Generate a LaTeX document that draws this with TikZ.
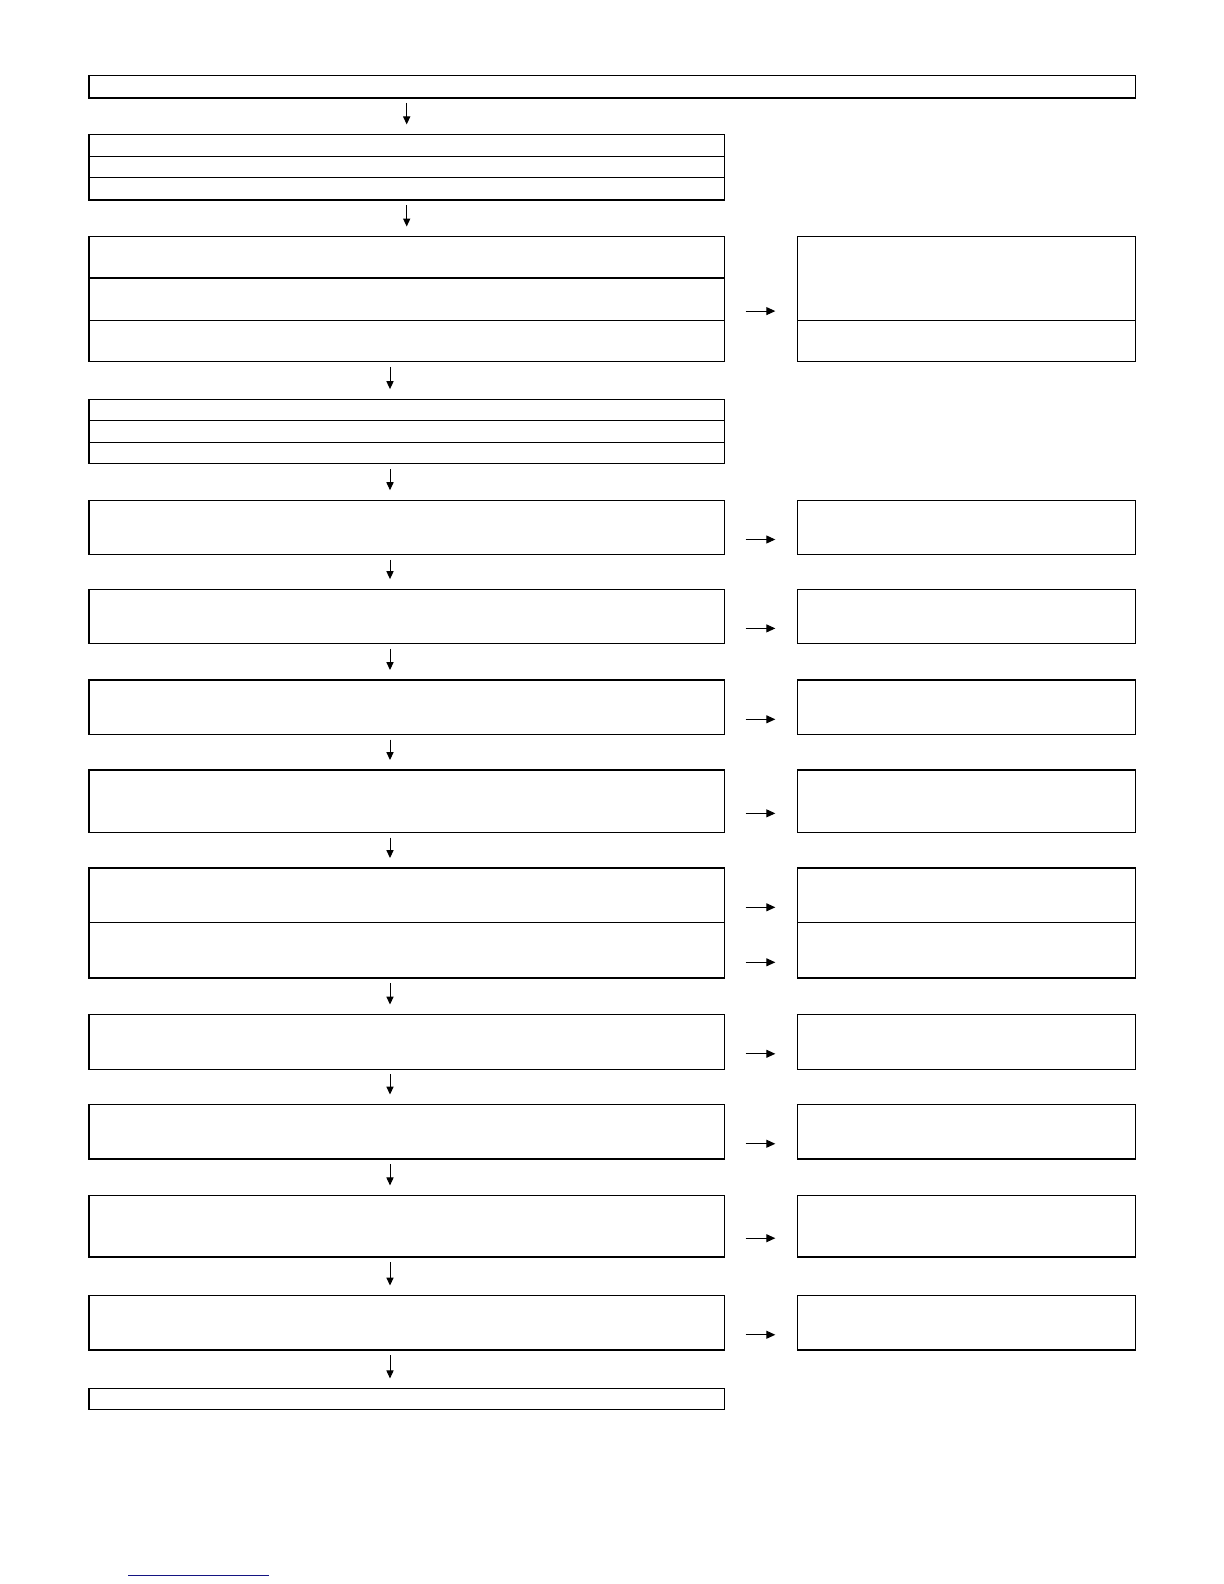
\documentclass[tikz,border=0pt]{standalone}
\usetikzlibrary{arrows.meta}
\definecolor{linkblue}{RGB}{20,20,130}
\tikzset{
  box/.style={draw, line width=0.6pt, inner sep=0pt, outer sep=0pt, anchor=north west},
  lbox/.style={box, minimum width=317.8pt},
  rbox/.style={box, minimum width=169.2pt},
  flow/.style={-{Triangle[length=4pt,width=3.6pt]}, line width=0.5pt, shorten <=2.5pt, shorten >=5pt},
  harrow/.style={-{Triangle[length=4.5pt,width=4pt]}, line width=0.5pt, shorten <=10.5pt, shorten >=11pt}
}
\begin{document}
\begin{tikzpicture}[x=0.5pt, y=-0.5pt]
        \useasboundingbox (0,0) rectangle (1224,1584);
        \node[box, minimum width=523.45pt, minimum height=11.1pt] (top) at (88.9,75.8) {};
        % stacked rows of the left column
        \foreach \n/\y/\h in {g2a/134.4/11.1, g2b/156.6/10.6, g2c/177.8/11.1,
                              g3a/236.5/20.7, g3b/277.9/21.2, g3c/320.3/20.75,
                              g4a/399.1/10.65, g4b/420.4/11.1, g4c/442.6/10.6,
                              s5/500.2/27.3, s6/589.1/27.3, s7/680/27.3, s8/770/31.35,
                              s9a/868/27.3, s9b/922.6/27.7, s10/1014.5/27.3, s11/1104.5/27.25,
                              s12/1195.4/30.8, s13/1295.5/27.25, fin/1388.4/10.6}{
            \node[lbox, minimum height=\h pt] (\n) at (88.9,\y) {};
         }
        % boxes of the right column
        \foreach \n/\y/\h in {r3a/236.5/41.9, r3b/320.3/20.75, r5/500.2/27.3, r6/589.1/27.3,
                              r7/680/27.3, r8/770/31.35, r9a/868/27.3, r9b/922.6/27.7,
                              r10/1014.5/27.3, r11/1104.5/27.25, r12/1195.4/30.8, r13/1295.5/27.25}{
            \node[rbox, minimum height=\h pt] (\n) at (797.3,\y) {};
         }
        \draw[flow] (top.south -| g2a.north) -- (g2a.north);
        \draw[flow] (g2c.south) -- (g3a.north);
        \foreach \a/\b in {g3c/g4a, g4c/s5, s5/s6, s6/s7, s7/s8, s8/s9a, s9b/s10,
                           s10/s11, s11/s12, s12/s13, s13/fin}{
            \draw[flow] ([xshift=-8.35pt]\a.south) -- ([xshift=-8.35pt]\b.north);
         }
        \foreach \l/\r in {g3b/r3a, s5/r5, s6/r6, s7/r7, s8/r8, s9a/r9a, s9b/r9b,
                           s10/r10, s11/r11, s12/r12, s13/r13}{
            \draw[harrow] ([yshift=-6pt]\l.east) -- ([yshift=-6pt]\l.east -| \r.west);
         }
        \draw[linkblue, line width=0.75pt] (128.3,1575.4) -- (268.8,1575.4);
    \end{tikzpicture}
\end{document}
